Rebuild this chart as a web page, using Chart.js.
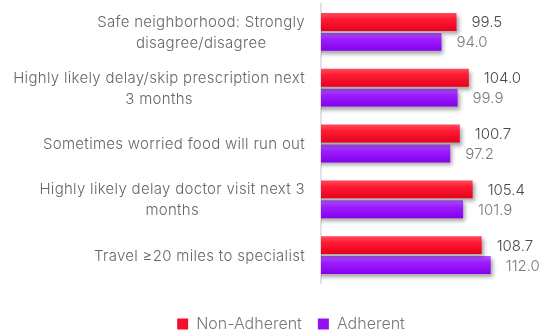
<!DOCTYPE html>
<html>
<head>
<meta charset="utf-8">
<script src="https://cdn.jsdelivr.net/npm/chart.js@4/dist/chart.umd.min.js"></script>
<style>
html,body{margin:0;padding:0;background:#fff;}
#wrap{width:542px;height:335px;position:relative;}
</style>
</head>
<body>
<div id="wrap"><canvas id="c"></canvas></div>
<script>
const categories = [
  ["Safe neighborhood: Strongly", "disagree/disagree"],
  ["Highly likely delay/skip prescription next", "3 months"],
  ["Sometimes worried food will run out"],
  ["Highly likely delay doctor visit next 3", "months"],
  ["Travel \u226520 miles to specialist"]
];
const seriesNames = ["Non-Adherent", "Adherent"];
const nonAdherent = [99.5, 104.0, 100.7, 105.4, 108.7];
const adherent = [94.0, 99.9, 97.2, 101.9, 112.0];

const FONT = "Inter, 'Noto Sans', sans-serif";
const WEIGHT = 300;
const solid = ["#f2102a", "#9410f5"];
const grads = [
  ["#ff4a5c", "#ff1c34", "#e6001c"],
  ["#b458ff", "#9c1eff", "#8600ec"]
];
const labelColors = ["#4a4a4a", "#7a7a7a"];

const barStyle = {
  id: "barStyle",
  beforeDatasetsDraw(chart) {
    const ctx = chart.ctx;
    chart.data.datasets.forEach((ds, di) => {
      const meta = chart.getDatasetMeta(di);
      meta.data.forEach(el => {
        const top = el.y - el.height / 2, bot = el.y + el.height / 2;
        const g = ctx.createLinearGradient(0, top, 0, bot);
        g.addColorStop(0, grads[di][0]);
        g.addColorStop(0.35, grads[di][1]);
        g.addColorStop(1, grads[di][2]);
        el.options.backgroundColor = g;
      });
    });
  },
  beforeDatasetDraw(chart) {
    const ctx = chart.ctx;
    ctx.save();
    ctx.shadowColor = "rgba(0,0,0,0.35)";
    ctx.shadowBlur = 4;
    ctx.shadowOffsetX = 2;
    ctx.shadowOffsetY = 3;
  },
  afterDatasetDraw(chart) {
    chart.ctx.restore();
  },
  afterDatasetsDraw(chart) {
    const ctx = chart.ctx;
    ctx.save();
    ctx.font = WEIGHT + " 15px " + FONT;
    ctx.textBaseline = "middle";
    ctx.textAlign = "left";
    chart.data.datasets.forEach((ds, di) => {
      const meta = chart.getDatasetMeta(di);
      meta.data.forEach((el, i) => {
        ctx.fillStyle = labelColors[di];
        ctx.fillText(ds.data[i].toFixed(1), el.x + 15, el.y + 1);
      });
    });
    // category labels: right-aligned blocks, lines centered within block
    const y = chart.scales.y;
    ctx.fillStyle = "#666";
    ctx.textAlign = "center";
    if ("letterSpacing" in ctx) ctx.letterSpacing = "0.3px";
    const lh = 21;
    const xr = y.right - 16;
    categories.forEach((lines, i) => {
      const cy = y.getPixelForValue(i);
      let w = 0;
      lines.forEach(l => { w = Math.max(w, ctx.measureText(l).width); });
      const cx = xr - w / 2;
      const start = cy - (lines.length - 1) * lh / 2;
      lines.forEach((l, k) => ctx.fillText(l, cx, start + k * lh + 1));
    });
    ctx.restore();
  }
};

new Chart(document.getElementById("c"), {
  type: "bar",
  data: {
    labels: categories,
    datasets: [
      { label: seriesNames[0], data: nonAdherent, backgroundColor: () => solid[0] },
      { label: seriesNames[1], data: adherent, backgroundColor: () => solid[1] }
    ]
  },
  options: {
    indexAxis: "y",
    responsive: true,
    maintainAspectRatio: false,
    animation: false,
    categoryPercentage: 0.714,
    barPercentage: 0.9,
    layout: { padding: { top: 4, right: 2, left: 42, bottom: -7 } },
    scales: {
      x: {
        display: true, min: 50, max: 130,
        grid: { display: false },
        border: { display: false },
        ticks: { display: false },
        afterFit(scale) { scale.height = 17; }
      },
      y: {
        grid: { display: false },
        border: { display: true, color: "#e2e2e2", width: 2 },
        ticks: { display: false },
        afterFit(scale) { scale.width = 279; }
      }
    },
    plugins: {
      legend: {
        position: "bottom",
        labels: {
          boxWidth: 11, boxHeight: 11, color: "#777",
          font: { size: 16, family: FONT, weight: WEIGHT },
          padding: 16
        }
      },
      tooltip: { enabled: false }
    }
  },
  plugins: [barStyle]
});
</script>
</body>
</html>
